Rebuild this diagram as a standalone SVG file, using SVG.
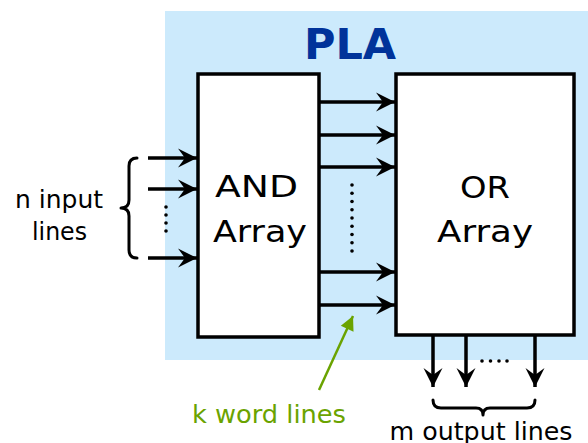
<svg xmlns="http://www.w3.org/2000/svg" width="588" height="443" viewBox="0 0 588 443">
  <style>
    .box { fill: #ffffff; stroke: #000000; stroke-width: 3.5; }
    .wire { stroke: #000000; stroke-width: 3.5; fill: none; }
    .brace { stroke: #000000; stroke-width: 3; fill: none; stroke-linecap: round; stroke-linejoin: round; }
    .lbl { font-family: "DejaVu Sans", "Liberation Sans", sans-serif; fill: #000000; text-anchor: middle; }
    .big { font-size: 31px; }
    .side { font-size: 24px; }
    .green { fill: #6aa300; }
    .title { font-family: "DejaVu Sans", "Liberation Sans", sans-serif; font-weight: bold; font-size: 43px; fill: #00339a; text-anchor: middle; }
    .dot { fill: #000000; }
  </style>
  <defs>
    <marker id="head" markerUnits="userSpaceOnUse" markerWidth="22" markerHeight="22" viewBox="-20 -11 22 22" refX="0" refY="0" orient="auto">
      <path d="M0,0 L-19,-9.5 L-12,0 L-19,9.5 Z" fill="#000000"/>
    </marker>
    <marker id="ghead" markerUnits="userSpaceOnUse" markerWidth="20" markerHeight="20" viewBox="-18 -10 20 20" refX="0" refY="0" orient="auto">
      <path d="M0,0 L-14,-7 L-14,7 Z" fill="#6aa300"/>
    </marker>
  </defs>

  <!-- PLA enclosure -->
  <rect x="165" y="11" width="423" height="349" fill="#cceafc"/>
  <text class="title" x="350" y="59">PLA</text>

  <g id="and-array">
    <rect class="box" x="198" y="74" width="121" height="263"/>
    <text class="lbl big" x="256.5" y="197" textLength="83" lengthAdjust="spacingAndGlyphs">AND</text>
    <text class="lbl big" x="260" y="242" textLength="94" lengthAdjust="spacingAndGlyphs">Array</text>
  </g>

  <g id="or-array">
    <rect class="box" x="396" y="74" width="178" height="261"/>
    <text class="lbl big" x="485" y="198" textLength="50" lengthAdjust="spacingAndGlyphs">OR</text>
    <text class="lbl big" x="485" y="242" textLength="96" lengthAdjust="spacingAndGlyphs">Array</text>
  </g>

  <g id="inputs">
    <text class="lbl side" x="59" y="208" textLength="88" lengthAdjust="spacingAndGlyphs">n input</text>
    <text class="lbl side" x="59.5" y="240" textLength="55" lengthAdjust="spacingAndGlyphs">lines</text>
    <path class="brace" d="M137,158 Q129,158 129,166 L129,200 Q129,208 121,208 Q129,208 129,216 L129,250 Q129,258 137,258"/>
    <g class="dot">
      <circle cx="166" cy="207" r="1.8"/>
      <circle cx="166" cy="215" r="1.8"/>
      <circle cx="166" cy="223" r="1.8"/>
      <circle cx="166" cy="231" r="1.8"/>
    </g>
  </g>

  <g id="word-lines">
    <text class="lbl side green" x="269" y="423" textLength="154" lengthAdjust="spacingAndGlyphs">k word lines</text>
    <g class="dot">
      <circle cx="352" cy="185" r="1.8"/>
      <circle cx="352" cy="193.3" r="1.8"/>
      <circle cx="352" cy="201.5" r="1.8"/>
      <circle cx="352" cy="209.8" r="1.8"/>
      <circle cx="352" cy="218" r="1.8"/>
      <circle cx="352" cy="226.3" r="1.8"/>
      <circle cx="352" cy="234.5" r="1.8"/>
      <circle cx="352" cy="242.8" r="1.8"/>
      <circle cx="352" cy="251" r="1.8"/>
    </g>
  </g>

  <g id="outputs">
    <text class="lbl side" x="481" y="440" textLength="183" lengthAdjust="spacingAndGlyphs">m output lines</text>
    <path class="brace" d="M433,400 Q433,408 441,408 L476,408 Q483,408 483,415 Q483,408 490,408 L527,408 Q535,408 535,400"/>
    <g class="dot">
      <circle cx="482" cy="361" r="1.8"/>
      <circle cx="490.5" cy="361" r="1.8"/>
      <circle cx="499" cy="361" r="1.8"/>
      <circle cx="507" cy="361" r="1.8"/>
    </g>
  </g>

  <g id="connectors">
    <!-- input lines into the AND array -->
    <line class="wire" x1="148" y1="158" x2="197" y2="158" marker-end="url(#head)"/>
    <line class="wire" x1="148" y1="189" x2="197" y2="189" marker-end="url(#head)"/>
    <line class="wire" x1="148" y1="258" x2="197" y2="258" marker-end="url(#head)"/>
    <!-- word lines between the arrays -->
    <line class="wire" x1="319" y1="102" x2="395" y2="102" marker-end="url(#head)"/>
    <line class="wire" x1="319" y1="135" x2="395" y2="135" marker-end="url(#head)"/>
    <line class="wire" x1="319" y1="167" x2="395" y2="167" marker-end="url(#head)"/>
    <line class="wire" x1="319" y1="272" x2="395" y2="272" marker-end="url(#head)"/>
    <line class="wire" x1="319" y1="305" x2="395" y2="305" marker-end="url(#head)"/>
    <!-- output lines -->
    <line class="wire" x1="433" y1="335" x2="433" y2="387" marker-end="url(#head)"/>
    <line class="wire" x1="466" y1="335" x2="466" y2="387" marker-end="url(#head)"/>
    <line class="wire" x1="535" y1="335" x2="535" y2="387" marker-end="url(#head)"/>
    <!-- pointer to the word lines -->
    <line x1="319" y1="390" x2="353" y2="316" stroke="#6aa300" stroke-width="2.5" marker-end="url(#ghead)"/>
  </g>
</svg>
